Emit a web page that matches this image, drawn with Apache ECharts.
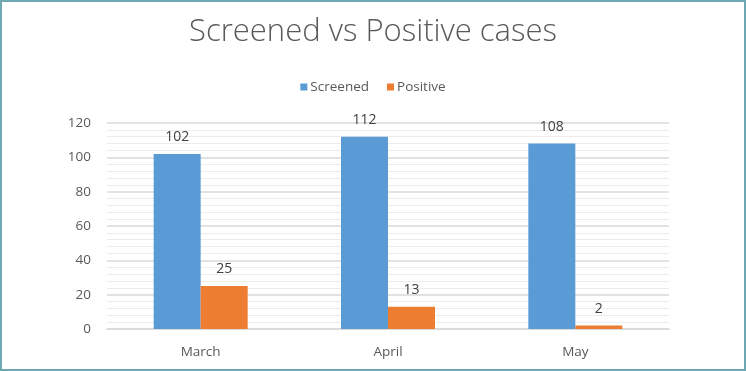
<!DOCTYPE html>
<html><head><meta charset="utf-8">
<script src="https://cdn.jsdelivr.net/npm/echarts@6/dist/echarts.min.js"></script>
<style>html,body{margin:0;padding:0;background:#fff}#c{width:746px;height:371px;box-sizing:border-box;border:2px solid #6ea8b3}</style>
</head><body><div id="c"></div>
<script>
var categories = ['March', 'April', 'May'];
var screened = [102, 112, 108];
var positive = [25, 13, 2];
var seriesNames = ['Screened', 'Positive'];
var yTicks = [0, 20, 40, 60, 80, 100, 120];

var chart = echarts.init(document.getElementById('c'), null, {renderer: 'canvas'});
var font = '"Open Sans", sans-serif';
chart.setOption({
  animation: false,
  title: {text: 'Screened vs Positive cases', left: 'center', top: 10,
    textStyle: {fontFamily: font, fontSize: 31, fontWeight: 300, color: '#595959'}},
  legend: {data: seriesNames, top: 73, left: 'center', itemWidth: 7, itemHeight: 7, itemGap: 18,
    icon: 'rect', textStyle: {fontFamily: font, fontSize: 13.5, color: '#595959', padding: [0, 0, 0, -2]}},
  grid: {left: 105, right: 75, top: 121, bottom: 40, containLabel: false},
  xAxis: {type: 'category', data: categories,
    axisLine: {lineStyle: {color: '#d9d9d9', width: 1.5}}, axisTick: {show: false},
    axisLabel: {fontFamily: font, fontSize: 13.5, color: '#595959', margin: 16}},
  yAxis: {type: 'value', min: yTicks[0], max: yTicks[yTicks.length - 1], interval: 20,
    axisLine: {show: false}, axisTick: {show: false},
    axisLabel: {fontFamily: font, fontSize: 13.5, color: '#595959', margin: 16},
    splitLine: {lineStyle: {color: '#d9d9d9', width: 1.5}},
    minorTick: {show: false, splitNumber: 5},
    minorSplitLine: {show: true, lineStyle: {color: '#ececec', width: 1}}},
  series: [
    {name: seriesNames[0], type: 'bar', data: screened, barWidth: 47, barGap: '0%',
      itemStyle: {color: '#5b9bd5'},
      label: {show: true, position: 'top', distance: 10, fontFamily: font, fontSize: 14, color: '#404040'}},
    {name: seriesNames[1], type: 'bar', data: positive, barWidth: 47,
      itemStyle: {color: '#ed7d31'},
      label: {show: true, position: 'top', distance: 10, fontFamily: font, fontSize: 14, color: '#404040'}}
  ]
});
</script></body></html>
